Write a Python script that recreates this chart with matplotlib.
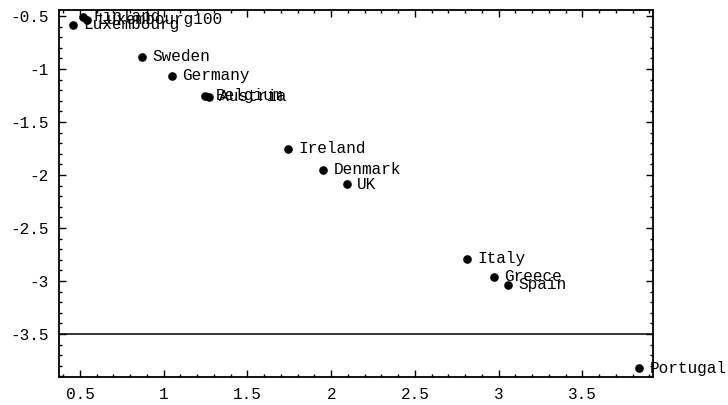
import matplotlib
matplotlib.use("Agg")
import matplotlib.pyplot as plt
from matplotlib.ticker import MultipleLocator

countries = ["Luxembourg", "Finland", "Luxembourg100", "Sweden", "Germany",
             "Belgium", "Austria", "Ireland", "Denmark", "UK", "Italy",
             "Greece", "Spain", "Portugal"]
x_vals = [0.458, 0.518, 0.542, 0.870, 1.049, 1.246, 1.270, 1.740, 1.951,
          2.094, 2.809, 2.973, 3.057, 3.839]
y_vals = [-0.585, -0.509, -0.538, -0.884, -1.066, -1.252, -1.261, -1.755,
          -1.953, -2.088, -2.792, -2.959, -3.038, -3.824]
threshold = -3.5

x_ticks = [0.5, 1, 1.5, 2, 2.5, 3, 3.5]
x_tick_labels = ["0.5", "1", "1.5", "2", "2.5", "3", "3.5"]
y_ticks = [-0.5, -1, -1.5, -2, -2.5, -3, -3.5]
y_tick_labels = ["-0.5", "-1", "-1.5", "-2", "-2.5", "-3", "-3.5"]

mono = "Liberation Mono"
fs = 11.6

fig = plt.figure(figsize=(7.28, 4.05), dpi=100)
ax = fig.add_axes([58.5 / 728, 1 - 377 / 405, (653 - 58.5) / 728, (377 - 9.5) / 405])

ax.axhline(threshold, color="black", lw=1.1)
ax.plot(x_vals, y_vals, "o", color="black", ms=5.2, clip_on=False, zorder=3)
for name, x, y in zip(countries, x_vals, y_vals):
    ax.annotate(name, (x, y), xytext=(7.5, 0), textcoords="offset points",
                va="center", ha="left", family=mono, fontsize=fs,
                annotation_clip=False)

ax.set_xlim(0.372, 3.921)
ax.set_ylim(-3.906, -0.439)
ax.set_xticks(x_ticks)
ax.set_xticklabels(x_tick_labels, family=mono, fontsize=fs)
ax.set_yticks(y_ticks)
ax.set_yticklabels(y_tick_labels, family=mono, fontsize=fs)
ax.xaxis.set_minor_locator(MultipleLocator(0.1))
ax.yaxis.set_minor_locator(MultipleLocator(0.1))
ax.tick_params(which="both", direction="in", top=True, right=True,
               colors="black", width=1.0)
ax.tick_params(which="major", length=5, pad=7)
ax.tick_params(which="minor", length=2.5)
for s in ax.spines.values():
    s.set_linewidth(1.3)

fig.savefig("out.png", dpi=100)
